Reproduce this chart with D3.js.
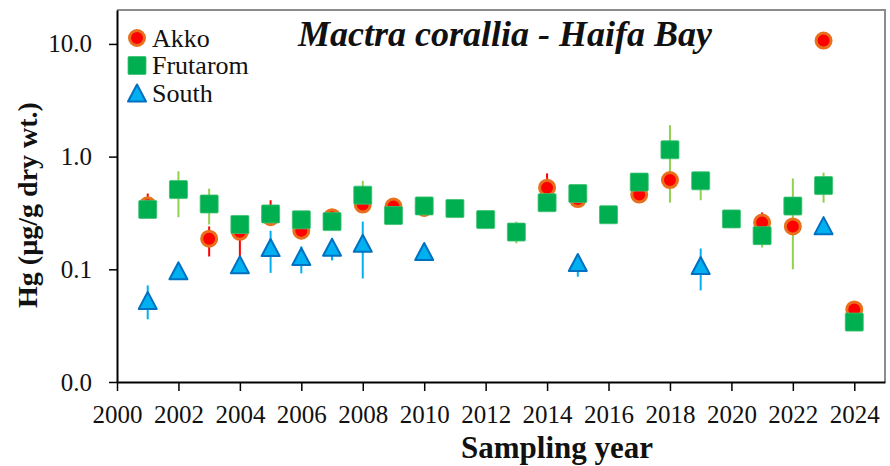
<!DOCTYPE html>
<html>
<head>
<meta charset="utf-8">
<script src="https://cdn.jsdelivr.net/npm/d3@7"></script>
<style>
  html, body { margin: 0; padding: 0; background: #fff; }
  svg { display: block; font-family: "Liberation Serif", "Times New Roman", serif; }
</style>
</head>
<body>
<svg id="chart" width="890" height="466"></svg>
<script>
// Sampling years
const years = [2001, 2002, 2003, 2004, 2005, 2006, 2007, 2008, 2009, 2010, 2011, 2012,
               2013, 2014, 2015, 2016, 2017, 2018, 2019, 2020, 2021, 2022, 2023, 2024];

// Hg concentration (µg/g dry wt.) per station: mean, lower and upper error bound
const akkoMean = [0.37, null, 0.187, 0.215, 0.29, 0.22, 0.29, 0.375, 0.36, 0.35, null, null,
                  null, 0.53, 0.42, null, 0.46, 0.62, null, null, 0.26, 0.24, 10.7, 0.044];
const akkoLow  = [0.36, null, 0.13, 0.13, 0.25, 0.185, 0.28, 0.36, 0.35, 0.34, null, null,
                  null, 0.47, 0.40, null, 0.44, 0.60, null, null, 0.22, 0.23, 10.5, 0.040];
const akkoHigh = [0.47, null, 0.24, 0.26, 0.41, 0.26, 0.30, 0.39, 0.37, 0.36, null, null,
                  null, 0.71, 0.44, null, 0.48, 0.64, null, null, 0.32, 0.25, 10.9, 0.050];

const frutMean = [0.34, 0.51, 0.38, 0.25, 0.31, 0.275, 0.265, 0.455, 0.30, 0.365, 0.346, 0.276,
                  0.214, 0.39, 0.47, 0.305, 0.594, 1.15, 0.61, 0.28, 0.199, 0.364, 0.553, 0.034];
const frutLow  = [0.33, 0.29, 0.25, 0.24, 0.29, 0.26, 0.245, 0.35, 0.29, 0.35, 0.34, 0.27,
                  0.17, 0.38, 0.46, 0.30, 0.58, 0.39, 0.41, 0.26, 0.156, 0.10, 0.39, 0.033];
const frutHigh = [0.36, 0.74, 0.52, 0.28, 0.35, 0.31, 0.28, 0.61, 0.31, 0.38, 0.35, 0.28,
                  0.265, 0.40, 0.48, 0.31, 0.61, 1.9, 0.62, 0.30, 0.21, 0.64, 0.72, 0.035];

const southMean = [0.053, 0.097, null, 0.11, 0.156, 0.13, 0.157, 0.17, null, 0.144, null, null,
                   null, null, 0.115, null, null, null, 0.108, null, null, null, 0.244, null];
const southLow  = [0.036, 0.096, null, 0.108, 0.093, 0.092, 0.12, 0.083, null, 0.14, null, null,
                   null, null, 0.086, null, null, null, 0.065, null, null, null, 0.24, null];
const southHigh = [0.072, 0.098, null, 0.112, 0.22, 0.16, 0.18, 0.265, null, 0.148, null, null,
                   null, null, 0.13, null, null, null, 0.153, null, null, null, 0.25, null];

// Axis ticks
const xTicks = [2000, 2002, 2004, 2006, 2008, 2010, 2012, 2014, 2016, 2018, 2020, 2022, 2024];
const yTicks = [0.01, 0.1, 1, 10];

const svg = d3.select("#chart");
const plotLeft = 117, plotRight = 885, plotTop = 10, plotBottom = 382;

const x = d3.scaleLinear().domain([2000, 2025]).range([plotLeft, plotRight]);
const y = d3.scaleLog().domain([0.01, 20]).range([plotBottom, plotTop]);

// Plot frame: grey top/right edges
svg.append("path")
  .attr("d", `M${plotLeft},${plotTop}H${plotRight}V${plotBottom}`)
  .attr("fill", "none").attr("stroke", "#8c8c8c").attr("stroke-width", 2);

// Axes
const xAxis = svg.append("g").attr("transform", `translate(0,${plotBottom})`)
  .call(d3.axisBottom(x).tickValues(xTicks).tickFormat(d3.format("d"))
        .tickSize(9).tickSizeOuter(0).tickPadding(14));
const yAxis = svg.append("g").attr("transform", `translate(${plotLeft},0)`)
  .call(d3.axisLeft(y).tickValues(yTicks).tickFormat(d3.format(".1f"))
        .tickSize(8).tickSizeOuter(0).tickPadding(17));

[xAxis, yAxis].forEach(g => {
  g.select(".domain").attr("stroke", "#000").attr("stroke-width", 2);
  g.selectAll(".tick line").attr("stroke", "#000").attr("stroke-width", 1.5);
  g.selectAll(".tick text").attr("fill", "#111")
    .style("font-family", '"Liberation Serif", serif').style("font-size", "25px");
});

// Axis titles
svg.append("text")
  .attr("x", 557).attr("y", 458)
  .attr("text-anchor", "middle")
  .style("font-size", "31px").style("font-weight", "bold").attr("fill", "#111")
  .text("Sampling year");

svg.append("text")
  .attr("transform", "translate(37,205) rotate(-90)")
  .attr("text-anchor", "middle")
  .style("font-size", "28px").style("font-weight", "bold").attr("fill", "#111")
  .text("Hg (µg/g dry wt.)");

// Chart title
svg.append("text")
  .attr("x", 505).attr("y", 46)
  .attr("text-anchor", "middle")
  .style("font-size", "36px").style("font-weight", "bold").style("font-style", "italic")
  .attr("fill", "#111")
  .text("Mactra corallia - Haifa Bay");

// Series definitions
const series = [
  { name: "Akko", mean: akkoMean, low: akkoLow, high: akkoHigh, bar: "#ff0000", shape: "circle" },
  { name: "Frutarom", mean: frutMean, low: frutLow, high: frutHigh, bar: "#92d050", shape: "square" },
  { name: "South", mean: southMean, low: southLow, high: southHigh, bar: "#00b0f0", shape: "triangle" }
];

function rows(s) {
  return years.map((yr, i) => ({ yr, v: s.mean[i], lo: s.low[i], hi: s.high[i] }))
              .filter(d => d.v != null);
}

function drawMarker(g, shape, cx, cy) {
  if (shape === "circle") {
    g.append("circle").attr("cx", cx).attr("cy", cy).attr("r", 7.5)
      .attr("fill", "#ff0000").attr("stroke", "#e8701c").attr("stroke-width", 3);
  } else if (shape === "square") {
    g.append("rect").attr("x", cx - 9).attr("y", cy - 9).attr("width", 18).attr("height", 18)
      .attr("rx", 1).attr("fill", "#00b050").attr("stroke", "#3cc070").attr("stroke-width", 0.8);
  } else {
    const h = 17, w = 18;
    g.append("path")
      .attr("d", `M${cx},${cy - h / 2}L${cx + w / 2},${cy + h / 2}L${cx - w / 2},${cy + h / 2}Z`)
      .attr("fill", "#00b0f0").attr("stroke", "#0070c0").attr("stroke-width", 2)
      .attr("stroke-linejoin", "round");
  }
}

// Error bars first, then markers
const barLayer = svg.append("g");
series.forEach(s => {
  barLayer.selectAll(null).data(rows(s).filter(d => d.lo != null && d.hi != null))
    .enter().append("line")
    .attr("x1", d => x(d.yr)).attr("x2", d => x(d.yr))
    .attr("y1", d => y(d.lo)).attr("y2", d => y(d.hi))
    .attr("stroke", s.bar).attr("stroke-width", 2);
});

const markLayer = svg.append("g");
series.forEach(s => {
  const g = markLayer.append("g");
  rows(s).forEach(d => drawMarker(g, s.shape, x(d.yr), y(d.v)));
});

// Legend
const legend = svg.append("g");
series.forEach((s, i) => {
  const cy = 38 + i * 27.5;
  drawMarker(legend, s.shape, 137, cy);
  legend.append("text").attr("x", 152).attr("y", cy).attr("dy", "0.33em")
    .style("font-size", "26px").attr("fill", "#111").text(s.name);
});
</script>
</body>
</html>
